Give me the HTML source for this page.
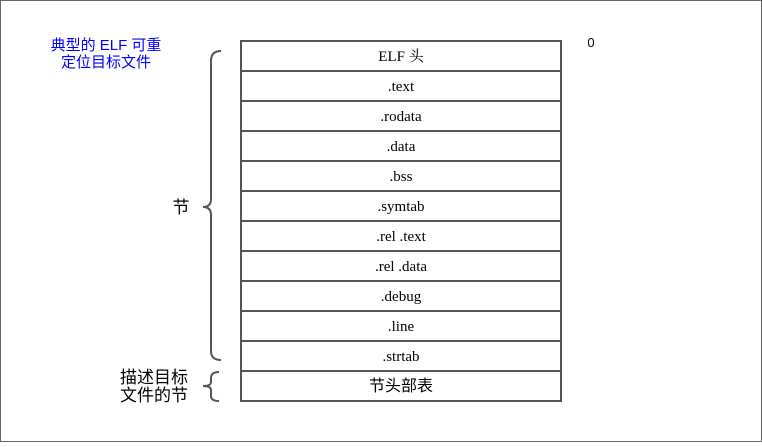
<!DOCTYPE html>
<html><head><meta charset="utf-8"><style>
body{margin:0;background:#fff;width:762px;height:442px;overflow:hidden}
</style></head><body>
<svg width="762" height="442" xmlns="http://www.w3.org/2000/svg">
<rect x="0.5" y="0.5" width="761" height="441" fill="#fff" stroke="#666" stroke-width="1"/>
<g font-family="Liberation Sans, Noto Sans CJK SC, sans-serif" font-size="15" fill="#0000ff" text-anchor="middle">
<text x="106" y="50">典型的 ELF 可重</text>
<text x="106" y="67">定位目标文件</text>
</g>
<text x="591" y="47" font-family="Liberation Sans, sans-serif" font-size="13" fill="#000" text-anchor="middle">0</text>
<g fill="none" stroke="#555" stroke-width="2">
<rect x="241" y="41" width="320" height="360"/>
<line x1="241" y1="71" x2="561" y2="71"/><line x1="241" y1="101" x2="561" y2="101"/>
<line x1="241" y1="131" x2="561" y2="131"/><line x1="241" y1="161" x2="561" y2="161"/>
<line x1="241" y1="191" x2="561" y2="191"/><line x1="241" y1="221" x2="561" y2="221"/>
<line x1="241" y1="251" x2="561" y2="251"/><line x1="241" y1="281" x2="561" y2="281"/>
<line x1="241" y1="311" x2="561" y2="311"/><line x1="241" y1="341" x2="561" y2="341"/>
<line x1="241" y1="371" x2="561" y2="371"/>
<path d="M221 51 Q211 51 211 61 L211 199 Q211 207 203 207 Q211 207 211 215 L211 351 Q211 360 221 360"/>
<path d="M219 372 Q211 372 211 378 L211 382 Q211 386 203 386 Q211 386 211 390 L211 396 Q211 401 219 401"/>
</g>
<g font-family="Liberation Serif, Noto Serif CJK SC, serif" font-size="15" fill="#000" text-anchor="middle">
<text x="401" y="61">ELF 头</text>
<text x="401" y="91">.text</text>
<text x="401" y="121">.rodata</text>
<text x="401" y="151">.data</text>
<text x="401" y="181">.bss</text>
<text x="401" y="211">.symtab</text>
<text x="401" y="241">.rel .text</text>
<text x="401" y="271">.rel .data</text>
<text x="401" y="301">.debug</text>
<text x="401" y="331">.line</text>
<text x="401" y="361">.strtab</text>
</g>
<g font-family="Liberation Sans, Noto Sans CJK SC, sans-serif" font-size="16" fill="#000" text-anchor="middle">
<text x="401" y="391">节头部表</text>
<text x="181" y="213" font-size="17">节</text>
</g>
<g font-family="Liberation Sans, Noto Sans CJK SC, sans-serif" font-size="17" fill="#000" text-anchor="middle">
<text x="154" y="383">描述目标</text>
<text x="154" y="401">文件的节</text>
</g>
</svg>
</body></html>
